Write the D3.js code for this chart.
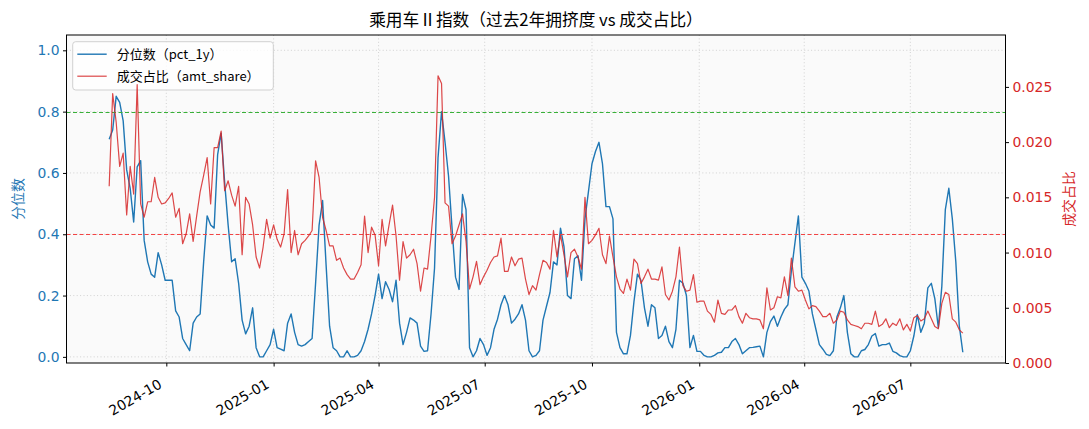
<!DOCTYPE html>
<html>
<head>
<meta charset="utf-8">
<script src="https://cdn.jsdelivr.net/npm/d3@7"></script>
<style>
  body { margin: 0; background: #fff; }
  text { font-family: "DejaVu Sans", "Noto Sans CJK SC", sans-serif; }
</style>
</head>
<body>
<svg id="chart" width="1089" height="429"></svg>
<script>
// ---- data (one point every 3 days) ----
var startDate = "2024-08-13";
var stepDays = 3;

var pct1y = [
  0.71,0.74,0.85,0.83,0.77,0.61,0.55,0.44,0.62,0.64,
  0.38,0.31,0.27,0.26,0.34,0.30,0.25,0.25,0.25,0.15,
  0.13,0.06,0.04,0.02,0.11,0.13,0.14,0.31,0.46,0.43,
  0.42,0.66,0.73,0.57,0.43,0.31,0.32,0.24,0.12,0.075,
  0.10,0.16,0.03,0.0,0.0,0.02,0.04,0.09,0.03,0.025,
  0.02,0.11,0.14,0.08,0.04,0.035,0.04,0.05,0.06,0.24,
  0.43,0.51,0.30,0.10,0.03,0.02,0.0,0.0,0.02,0.0,
  0.0,0.005,0.02,0.05,0.09,0.14,0.20,0.27,0.19,0.245,
  0.22,0.18,0.25,0.11,0.04,0.08,0.127,0.12,0.11,0.035,
  0.018,0.02,0.14,0.29,0.65,0.80,0.70,0.59,0.42,0.26,
  0.22,0.53,0.48,0.03,0.0,0.02,0.06,0.04,0.005,0.03,
  0.09,0.123,0.17,0.20,0.17,0.11,0.123,0.14,0.17,0.12,
  0.02,0.0,0.005,0.02,0.12,0.165,0.21,0.31,0.30,0.42,
  0.36,0.20,0.19,0.32,0.33,0.25,0.45,0.54,0.63,0.67,
  0.70,0.63,0.49,0.49,0.45,0.08,0.03,0.01,0.01,0.07,
  0.18,0.27,0.25,0.16,0.10,0.17,0.16,0.06,0.07,0.10,
  0.05,0.03,0.09,0.25,0.24,0.20,0.03,0.07,0.018,0.018,
  0.005,0.0,0.0,0.005,0.013,0.015,0.03,0.03,0.05,0.06,
  0.04,0.01,0.02,0.03,0.031,0.033,0.035,0.0,0.08,0.115,
  0.133,0.10,0.13,0.155,0.17,0.28,0.37,0.46,0.26,0.24,
  0.215,0.14,0.09,0.04,0.025,0.008,0.004,0.02,0.13,0.16,
  0.20,0.08,0.01,0.0,0.0,0.02,0.024,0.04,0.068,0.076,
  0.035,0.04,0.04,0.045,0.018,0.013,0.004,0.0,0.0,0.02,
  0.068,0.138,0.08,0.11,0.225,0.24,0.19,0.095,0.23,0.48,
  0.55,0.45,0.31,0.10,0.015
];

var amtShare = [
  0.0160,0.0244,0.0218,0.0178,0.0190,0.0134,0.0178,0.0153,0.0252,0.0144,
  0.0132,0.0146,0.0146,0.0168,0.0150,0.0144,0.0145,0.0149,0.0154,0.0132,
  0.0140,0.0108,0.0117,0.0135,0.0110,0.0133,0.0155,0.0170,0.0186,0.0144,
  0.0195,0.0195,0.0210,0.0156,0.0165,0.0152,0.0142,0.0160,0.0098,0.0150,
  0.0144,0.0125,0.0096,0.0086,0.0105,0.0130,0.0113,0.0125,0.0112,0.0105,
  0.0117,0.0157,0.0100,0.0120,0.0098,0.0108,0.0111,0.0115,0.0120,0.0183,
  0.0168,0.0132,0.0120,0.0106,0.0106,0.0093,0.0095,0.0086,0.0080,0.0076,
  0.0076,0.0082,0.0089,0.0133,0.0100,0.0123,0.0116,0.0088,0.0130,0.0106,
  0.0125,0.0143,0.0115,0.0075,0.0110,0.0095,0.0098,0.0103,0.0090,0.0065,
  0.0086,0.0085,0.0115,0.0150,0.0260,0.0253,0.0145,0.0142,0.0108,0.0115,
  0.0125,0.0135,0.0110,0.0067,0.0078,0.0092,0.0071,0.0078,0.0084,0.0091,
  0.0096,0.0097,0.0113,0.0083,0.0083,0.0096,0.0088,0.0094,0.0095,0.0076,
  0.0062,0.0070,0.0066,0.0080,0.0093,0.0091,0.0085,0.0120,0.0096,0.0116,
  0.0098,0.0078,0.0100,0.0103,0.0096,0.0085,0.0150,0.0108,0.0111,0.0116,
  0.0122,0.0098,0.0090,0.0115,0.0096,0.0078,0.0067,0.0063,0.0076,0.0066,
  0.0094,0.0090,0.0072,0.0078,0.0085,0.0076,0.0076,0.0075,0.0087,0.0062,
  0.0057,0.0065,0.0078,0.0105,0.0070,0.0065,0.0066,0.0080,0.0055,0.0056,
  0.0056,0.0047,0.0044,0.0037,0.0057,0.0045,0.0044,0.0048,0.0048,0.0052,
  0.0042,0.0036,0.0045,0.0041,0.0040,0.0040,0.0039,0.0031,0.0068,0.0048,
  0.0050,0.0060,0.0059,0.0078,0.0061,0.0095,0.0069,0.0065,0.0066,0.0057,
  0.0049,0.0052,0.0051,0.0047,0.0042,0.0042,0.0045,0.0036,0.0039,0.0047,
  0.0046,0.0039,0.0035,0.0034,0.0033,0.0031,0.0036,0.0036,0.0035,0.0047,
  0.0033,0.0035,0.0040,0.0032,0.0036,0.0034,0.0040,0.0030,0.0035,0.0029,
  0.0041,0.0043,0.0038,0.0040,0.0047,0.0040,0.0033,0.0031,0.0054,0.0064,
  0.0062,0.0040,0.0037,0.0030,0.0027
];

var monthTicks = ["2024-10-01","2025-01-01","2025-04-01","2025-07-01","2025-10-01",
                  "2026-01-01","2026-04-01","2026-07-01"];
var leftTicks = [0, 0.2, 0.4, 0.6, 0.8, 1.0];
var rightTicks = [0, 0.005, 0.01, 0.015, 0.02, 0.025];
var highLevel = 0.8, lowLevel = 0.4;

// ---- layout ----
var w = 1089, h = 429;
var m = {top: 35, right: 83.5, bottom: 66, left: 66.5};
var blue = "#1f77b4", red = "#d62728";
var cjk = "\"Noto Sans CJK SC\", sans-serif";

var svg = d3.select("#chart");
var parse = d3.utcParse("%Y-%m-%d");
var t0 = parse(startDate);
var dates = pct1y.map(function(d, i){ return d3.utcDay.offset(t0, i * stepDays); });
var t1 = dates[dates.length - 1];
var pad = (t1 - t0) * 0.05;

var x = d3.scaleUtc()
  .domain([new Date(+t0 - pad), new Date(+t1 + pad)])
  .range([m.left, w - m.right]);
var yL = d3.scaleLinear().domain([-0.02, 1.05]).range([h - m.bottom, m.top]);
var yR = d3.scaleLinear().domain([0, 0.0297]).range([h - m.bottom, m.top]);
var xTicks = monthTicks.map(parse);

// plot background
svg.append("rect")
  .attr("x", m.left).attr("y", m.top)
  .attr("width", w - m.left - m.right).attr("height", h - m.top - m.bottom)
  .attr("fill", "#fafafa");

// grid
var grid = svg.append("g").attr("stroke", "#c8c8c8").attr("stroke-width", 0.8)
  .attr("stroke-dasharray", "1,2.4");
grid.selectAll("line.gx").data(xTicks).enter().append("line")
  .attr("x1", function(d){ return x(d); }).attr("x2", function(d){ return x(d); })
  .attr("y1", m.top).attr("y2", h - m.bottom);
grid.selectAll("line.gy").data(leftTicks).enter().append("line")
  .attr("x1", m.left).attr("x2", w - m.right)
  .attr("y1", function(d){ return yL(d); }).attr("y2", function(d){ return yL(d); });

// blue line (left axis)
svg.append("path")
  .datum(pct1y)
  .attr("fill", "none").attr("stroke", blue).attr("stroke-width", 1.4)
  .attr("stroke-linejoin", "round")
  .attr("d", d3.line()
    .x(function(d, i){ return x(dates[i]); })
    .y(function(d){ return yL(d); }));

// reference levels (snapped to the pixel grid so the dashes stay crisp)
function snap(v){ return Math.round(v) + 0.5; }
svg.append("line")
  .attr("x1", m.left).attr("x2", w - m.right)
  .attr("y1", snap(yL(highLevel))).attr("y2", snap(yL(highLevel)))
  .attr("stroke", "#38b038").attr("stroke-width", 1)
  .attr("stroke-dasharray", "4,2.5");
svg.append("line")
  .attr("x1", m.left).attr("x2", w - m.right)
  .attr("y1", snap(yL(lowLevel))).attr("y2", snap(yL(lowLevel)))
  .attr("stroke", "#f24444").attr("stroke-width", 1)
  .attr("stroke-dasharray", "4,2.5");

// legend
var lg = svg.append("g").attr("transform", "translate(72.7,41.7)");
lg.append("rect").attr("width", 200.6).attr("height", 48.3).attr("rx", 3)
  .attr("fill", "#fff").attr("fill-opacity", 0.8)
  .attr("stroke", "#d0d0d0").attr("stroke-width", 1);
var items = [
  {label: "分位数（pct_1y）", color: blue, width: 1.4, op: 1},
  {label: "成交占比（amt_share）", color: red, width: 1.2, op: 0.85}
];
items.forEach(function(it, i){
  var yy = 12.5 + i * 22;
  lg.append("line").attr("x1", 4.6).attr("x2", 34).attr("y1", yy).attr("y2", yy)
    .attr("stroke", it.color).attr("stroke-width", it.width).attr("stroke-opacity", it.op);
  lg.append("text").attr("x", 44).attr("y", yy).attr("dy", "0.36em")
    .attr("font-size", 13).attr("fill", "#000").style("font-family", cjk).text(it.label);
});

// red line (right axis)
svg.append("path")
  .datum(amtShare)
  .attr("fill", "none").attr("stroke", red).attr("stroke-width", 1.2)
  .attr("stroke-opacity", 0.85).attr("stroke-linejoin", "round")
  .attr("d", d3.line()
    .x(function(d, i){ return x(dates[i]); })
    .y(function(d){ return yR(d); }));

// spines
svg.append("rect")
  .attr("x", m.left).attr("y", m.top)
  .attr("width", w - m.left - m.right).attr("height", h - m.top - m.bottom)
  .attr("fill", "none").attr("stroke", "#000").attr("stroke-width", 1);

// axes
var axL = svg.append("g").attr("transform", "translate(" + m.left + ",0)")
  .call(d3.axisLeft(yL).tickValues(leftTicks).tickFormat(d3.format(".1f"))
    .tickSize(3.5).tickPadding(3.5));
axL.selectAll("text").attr("fill", blue).attr("font-size", 13.9);

var axR = svg.append("g").attr("transform", "translate(" + (w - m.right) + ",0)")
  .call(d3.axisRight(yR).tickValues(rightTicks).tickFormat(d3.format(".3f"))
    .tickSize(3.5).tickPadding(3.5));
axR.selectAll("text").attr("fill", red).attr("font-size", 13.9);

var axB = svg.append("g").attr("transform", "translate(0," + (h - m.bottom) + ")")
  .call(d3.axisBottom(x).tickValues(xTicks).tickFormat(d3.utcFormat("%Y-%m"))
    .tickSize(3.5).tickPadding(3.5));
axB.selectAll("text")
  .attr("font-size", 13.9).attr("fill", "#000")
  .attr("text-anchor", "end")
  .attr("y", 0).attr("dy", 0)
  .attr("transform", "translate(-4,24) rotate(-30)");

[axL, axR, axB].forEach(function(a){
  a.attr("font-family", null);
  a.select(".domain").remove();
  a.selectAll(".tick line").attr("stroke", "#000");
});

// axis titles
svg.append("text")
  .attr("transform", "translate(18," + ((m.top + h - m.bottom) / 2) + ") rotate(-90)")
  .attr("text-anchor", "middle").attr("dy", "0.35em").style("font-family", cjk)
  .attr("font-size", 13.9).attr("fill", blue).text("分位数");
svg.append("text")
  .attr("transform", "translate(1069," + ((m.top + h - m.bottom) / 2) + ") rotate(-90)")
  .attr("text-anchor", "middle").attr("dy", "0.35em").style("font-family", cjk)
  .attr("font-size", 13.9).attr("fill", red).text("成交占比");

// title
svg.append("text")
  .attr("x", (m.left + w - m.right) / 2).attr("y", 20).attr("dy", "0.35em")
  .attr("text-anchor", "middle").attr("font-size", 16.7).attr("fill", "#000")
  .style("font-family", cjk)
  .text("乘用车Ⅱ指数（过去2年拥挤度 vs 成交占比）");
</script>
</body>
</html>
